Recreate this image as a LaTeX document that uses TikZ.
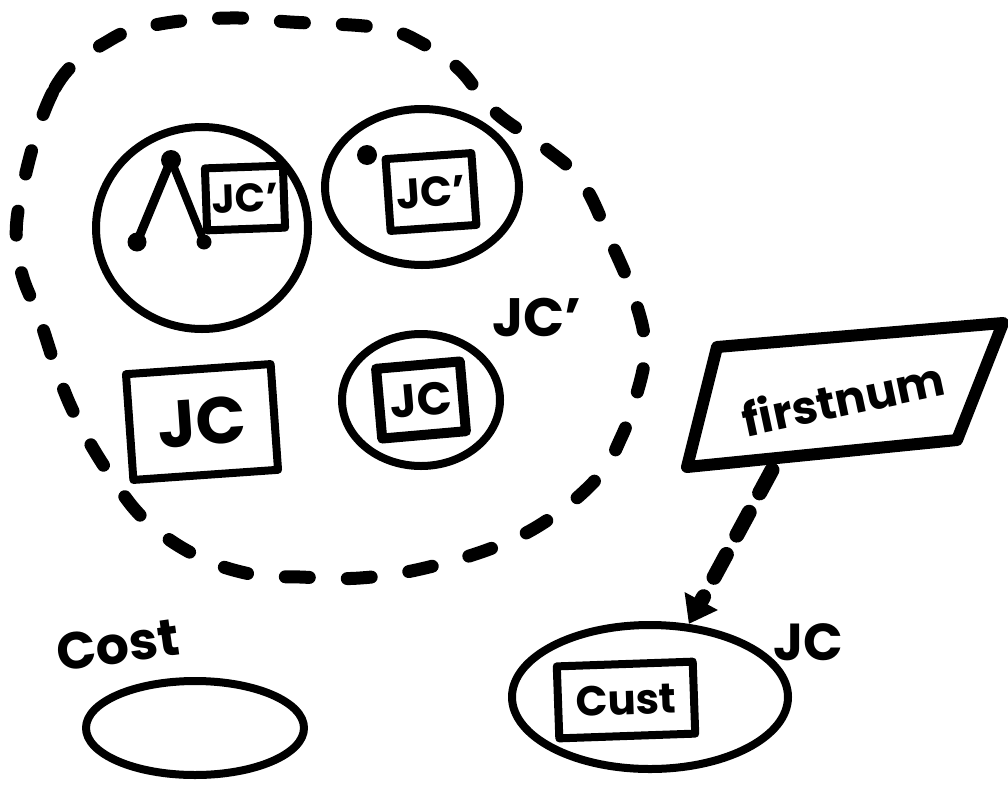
\documentclass[tikz,border=0pt]{standalone}
\usepackage{fontspec}
\setmainfont{Poppins}
\usetikzlibrary{shapes.geometric,arrows.meta}
\begin{document}
\begin{tikzpicture}[x=1pt,y=-1pt,
  hand/.style={draw, line width=#1, line join=round, line cap=round},
  hand/.default=8pt,
  txt/.style={font=\bfseries\fontsize{#1}{#1}\selectfont, inner sep=0pt},
  oval/.style={ellipse, hand, inner sep=0pt},
  boxed/.style={hand, inner sep=0pt, font=\bfseries\fontsize{#1}{#1}\selectfont},
  dot/.style={circle, fill, inner sep=0pt, minimum size=#1},
  blobline/.style={line width=13pt, line cap=round, dash pattern=on 24pt off 38pt},
  linkline/.style={line width=15pt, line cap=round, dash pattern=on 26pt off 22pt}
]
\useasboundingbox (0,0) rectangle (1008,795);

% large dashed region
\draw[blobline] plot[smooth cycle, tension=0.65] coordinates {
  (20,200) (55,88) (110,40) (160,24) (230,18) (290,22) (380,28) (425,45)
  (460,70) (495,112) (545,148) (582,182) (610,240) (635,300) (645,350)
  (635,400) (620,440) (600,475) (555,515) (500,545) (425,568) (360,578)
  (300,577) (250,574) (195,555) (145,520) (110,475) (80,425) (60,380)
  (40,320) (20,265)};

% circle 1 with tree and JC' box
\node[oval, minimum width=212pt, minimum height=202pt] (c1) at (202,228) {};
\node[dot=20pt] (t0) at (171,160) {};
\node[dot=19pt] (t1) at (137,242) {};
\node[dot=15pt] (t2) at (204,242) {};
\draw[line width=9pt, line cap=round] (t0.center) -- (t1.center);
\draw[line width=8pt, line cap=round] (t0.center) -- (t2.center);
\node[boxed=40, minimum width=78pt, minimum height=62pt, rotate=2] (b1) at (245,198) {JC’};

% circle 2 with dot and JC' box
\node[oval, minimum width=194pt, minimum height=156pt] (c2) at (422,187) {};
\node[dot=20pt] (d2) at (367,155) {};
\node[boxed=42, minimum width=86pt, minimum height=72pt, rotate=4] (b2) at (431,192) {JC’};

\node[txt=54] (l1) at (537,318) {JC’};

% JC box (no circle)
\node[boxed=66, minimum width=145pt, minimum height=106pt, rotate=4] (b3) at (202,422) {JC};

% circle 3 with JC box
\node[oval, minimum width=158pt, minimum height=132pt] (c3) at (421,400) {};
\node[boxed=46, minimum width=84pt, minimum height=70pt, rotate=5, line width=10pt] (b4) at (421,400) {JC};

% firstnum parallelogram
\coordinate (p1) at (717,347);
\coordinate (p2) at (1003,323);
\coordinate (p3) at (957,440);
\coordinate (p4) at (687,467);
\draw[line width=12pt, line join=round, line cap=round] (p1) -- (p2) -- (p3) -- (p4) -- cycle;
\node[txt=46, rotate=12] (fn) at (843,398) {firstnum};
\coordinate (pb) at (772,470);

% bottom right JC oval with Cust box
\node[oval, minimum width=276pt, minimum height=144pt] (e4) at (650,697) {};
\node[boxed=42, minimum width=136pt, minimum height=72pt, rotate=2] (b5) at (626,700) {Cust};
\node[txt=52] (l2) at (808,642) {JC};

\draw[linkline, -{Triangle[width=36pt,length=26pt]}] (pb) -- (e4.62);

% bottom left Cost oval
\node[txt=52, rotate=8] (l3) at (118,645) {Cost};
\node[oval, minimum width=218pt, minimum height=94pt] (e5) at (195,728) {};
\end{tikzpicture}
\end{document}
